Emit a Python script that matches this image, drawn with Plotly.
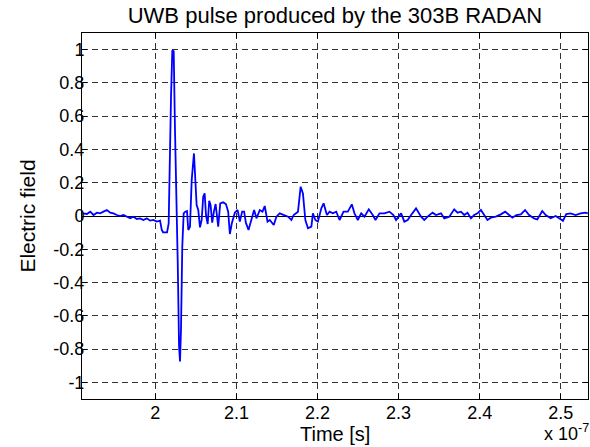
import plotly.graph_objects as go

# Time in units of 1e-7 s, electric field (normalised)
time_1e7s = [
    1.9107, 1.9156, 1.9197, 1.9237, 1.9279, 1.9320, 1.9360, 1.9402, 1.9443, 1.9483,
    1.9525, 1.9566, 1.9606, 1.9648, 1.9689, 1.9729, 1.9771, 1.9812, 1.9852, 1.9894,
    1.9935, 1.9975, 2.0017, 2.0058, 2.0079, 2.0095, 2.0144, 2.0164, 2.0172, 2.0193,
    2.0209, 2.0226, 2.0242, 2.0258, 2.0276, 2.0292, 2.0304, 2.0316, 2.0332, 2.0349,
    2.0369, 2.0390, 2.0406, 2.0427, 2.0448, 2.0476, 2.0492, 2.0509, 2.0529, 2.0550,
    2.0571, 2.0590, 2.0608, 2.0624, 2.0645, 2.0664, 2.0681, 2.0701, 2.0722, 2.0743,
    2.0775, 2.0800, 2.0836, 2.0870, 2.0898, 2.0919, 2.0943, 2.0980, 2.1014, 2.1042,
    2.1070, 2.1095, 2.1116, 2.1149, 2.1177, 2.1218, 2.1247, 2.1288, 2.1321, 2.1349,
    2.1383, 2.1411, 2.1460, 2.1493, 2.1534, 2.1595, 2.1636, 2.1678, 2.1706, 2.1759,
    2.1792, 2.1820, 2.1850, 2.1882, 2.1924, 2.1943, 2.1973, 2.2005, 2.2047, 2.2075,
    2.2116, 2.2149, 2.2189, 2.2231, 2.2272, 2.2321, 2.2374, 2.2423, 2.2456, 2.2497,
    2.2539, 2.2579, 2.2632, 2.2681, 2.2715, 2.2764, 2.2825, 2.2887, 2.2936, 2.2969,
    2.3031, 2.3071, 2.3112, 2.3154, 2.3215, 2.3277, 2.3317, 2.3358, 2.3419, 2.3461,
    2.3523, 2.3563, 2.3625, 2.3686, 2.3727, 2.3769, 2.3809, 2.3850, 2.3892, 2.3932,
    2.3973, 2.4015, 2.4055, 2.4096, 2.4138, 2.4199, 2.4261, 2.4314, 2.4363, 2.4403,
    2.4453, 2.4507, 2.4560, 2.4609, 2.4670, 2.4711, 2.4772, 2.4814, 2.4876, 2.4937,
    2.4999, 2.5027, 2.5068, 2.5122, 2.5183, 2.5245, 2.5306, 2.5334,
]
electric_field = [
    0.016, 0.012, 0.026, 0.006, 0.020, 0.016, 0.026, 0.036, 0.020, 0.016,
    0.006, 0.000, 0.006, -0.004, -0.014, -0.004, -0.018, -0.014, -0.024, -0.014,
    -0.028, -0.024, -0.034, -0.028, -0.084, -0.098, -0.098, -0.044, 0.216, 0.716,
    0.996, 0.990, 0.516, 0.216, -0.284, -0.784, -0.874, -0.684, -0.184, 0.016,
    0.026, 0.030, -0.084, -0.064, 0.216, 0.376, 0.176, 0.066, 0.036, -0.068,
    -0.024, 0.116, 0.136, 0.006, -0.048, 0.092, 0.066, -0.040, 0.026, 0.072,
    -0.064, 0.076, 0.082, 0.072, 0.026, -0.108, -0.044, 0.020, 0.036, -0.034,
    0.026, 0.026, -0.040, -0.084, -0.034, 0.036, -0.014, 0.036, 0.026, 0.060,
    -0.034, -0.024, -0.054, -0.004, 0.016, 0.006, -0.004, -0.024, 0.006, 0.026,
    0.176, 0.136, -0.024, -0.074, -0.064, 0.016, -0.024, -0.034, 0.046, 0.076,
    0.006, 0.026, 0.016, 0.026, -0.024, 0.026, 0.026, 0.070, 0.016, -0.024,
    0.016, -0.004, 0.040, 0.006, -0.024, 0.016, 0.016, 0.026, 0.006, -0.024,
    0.016, -0.034, -0.024, 0.006, 0.046, -0.004, -0.024, -0.004, 0.020, 0.006,
    0.016, -0.014, -0.004, 0.040, 0.020, 0.026, 0.006, 0.020, -0.014, 0.006,
    0.016, 0.036, 0.006, -0.024, -0.010, -0.004, 0.010, 0.026, 0.006, -0.010,
    0.006, 0.010, 0.036, 0.006, -0.014, -0.020, 0.030, 0.006, -0.014, 0.000,
    -0.020, -0.030, 0.012, 0.016, 0.006, 0.016, 0.020, 0.016,
]

x_ticks = [2.0, 2.1, 2.2, 2.3, 2.4, 2.5]
x_ticklabels = ["2", "2.1", "2.2", "2.3", "2.4", "2.5"]
y_ticks = [-1, -0.8, -0.6, -0.4, -0.2, 0, 0.2, 0.4, 0.6, 0.8, 1]
y_ticklabels = ["-1", "-0.8", "-0.6", "-0.4", "-0.2", "0", "0.2", "0.4", "0.6", "0.8", "1"]

FONT = "Liberation Sans, Arial, Helvetica, sans-serif"

fig = go.Figure()
fig.add_trace(go.Scatter(
    x=time_1e7s, y=electric_field, mode="lines",
    line=dict(color="#0000FF", width=1.8),
    showlegend=False,
))

axis_common = dict(
    showline=True, linecolor="black", linewidth=1, mirror="ticks",
    ticks="inside", ticklen=5, tickcolor="black", tickwidth=1,
    showgrid=True, gridcolor="#333333", gridwidth=1, griddash="6px,4px",
    tickfont=dict(family=FONT, size=18, color="black"),
)

fig.update_layout(
    width=590, height=447,
    margin=dict(l=82, r=2, t=33, b=48),
    paper_bgcolor="white", plot_bgcolor="white",
    title=dict(text="UWB pulse produced by the 303B RADAN",
               font=dict(family=FONT, size=22, color="black"),
               x=0.5, xanchor="center", xref="paper",
               y=1 - 15 / 447, yanchor="middle", yref="container"),
    xaxis=dict(range=[1.9095, 2.5336], tickvals=x_ticks, ticktext=x_ticklabels,
               zeroline=False, ticklabelstandoff=-3,
               **axis_common),
    yaxis=dict(range=[-1.1, 1.1], tickvals=y_ticks, ticktext=y_ticklabels,
               zeroline=True, zerolinecolor="black", zerolinewidth=1,
               ticklabelstandoff=-7,
               title=dict(text="Electric field", font=dict(family=FONT, size=21, color="black"),
                          standoff=12),
               **axis_common),
    annotations=[
        dict(text="Time [s]", xref="paper", yref="paper",
             x=0.5, y=-(434 - 399.3) / 366.6, xanchor="center", yanchor="middle",
             showarrow=False, font=dict(family=FONT, size=20, color="black")),
        dict(text="x 10<sup>-7</sup>", xref="paper", yref="paper",
             x=1.005, y=-(446 - 399.3) / 366.6, xanchor="right", yanchor="bottom",
             showarrow=False, font=dict(family=FONT, size=18, color="black")),
    ],
)

fig.write_html("out.html")
